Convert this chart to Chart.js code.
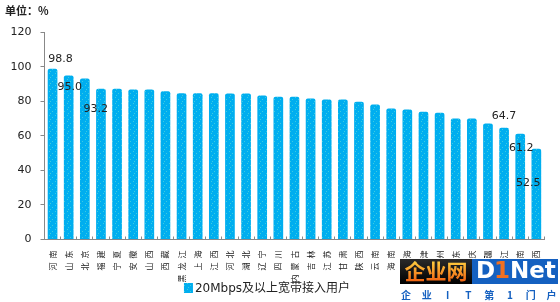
<!DOCTYPE html>
<html>
<head>
<meta charset="utf-8">
<script src="https://cdn.jsdelivr.net/npm/chart.js@4/dist/chart.umd.min.js"></script>
<style>
html, body { margin: 0; padding: 0; background: #fff; }
</style>
</head>
<body>
<canvas id="chart" width="560" height="302"></canvas>
<script>
// Provinces, sorted as in the picture
const provinces = ['河南', '山东', '北京', '福建', '宁夏', '安徽', '山西', '西藏', '黑龙江', '上海',
    '江西', '河北', '湖北', '辽宁', '四川', '内蒙古', '吉林', '江苏', '甘肃', '陕西',
    '云南', '海南', '青海', '天津', '贵州', '广东', '重庆', '新疆', '浙江', '湖南', '广西'];

// Share of 20Mbps+ broadband users, %
const values = [98.8, 95.0, 93.2, 87.3, 87.3, 86.9, 86.9, 85.8, 84.6, 84.6,
    84.6, 84.5, 84.5, 83.3, 82.7, 82.7, 81.6, 81.0, 81.0, 79.8,
    78.1, 75.8, 75.2, 74.0, 73.4, 70.0, 70.0, 67.1, 64.7, 61.2, 52.5];

const yTicks = [0, 20, 40, 60, 80, 100, 120];

// bars that carry a value label
const labeledBars = [0, 1, 2, 28, 29, 30];

const seriesName = '20Mbps及以上宽带接入用户';

const canvas = document.getElementById('chart');
const ctx = canvas.getContext('2d');

// dotted sky-blue fill like the original
function dotPattern() {
    const p = document.createElement('canvas');
    p.width = 6; p.height = 6;
    const g = p.getContext('2d');
    g.fillStyle = '#00AEEF';
    g.fillRect(0, 0, 6, 6);
    g.fillStyle = '#3DCBE0';
    g.fillRect(1, 1, 1, 1);
    g.fillRect(4, 3, 1, 1);
    g.fillRect(2, 5, 1, 1);
    return ctx.createPattern(p, 'repeat');
}
const barFill = dotPattern();

// label offsets relative to bar top (x, y)
const labelOffsets = { 0: [8, -10], 1: [1, 12], 2: [11, 31], 28: [0, -12], 29: [1, 14], 30: [-8, 34] };

const extras = {
    id: 'extras',
    afterDraw(chart) {
        const c = chart.ctx;
        const meta = chart.getDatasetMeta(0);
        c.save();

        // value labels
        c.font = '11px "DejaVu Sans"';
        c.fillStyle = '#222';
        c.textAlign = 'center';
        c.textBaseline = 'middle';
        labeledBars.forEach(i => {
            const el = meta.data[i];
            const off = labelOffsets[i] || [0, -8];
            c.fillText(values[i].toFixed(1), el.x + off[0], el.y + off[1]);
        });

        // legend
        c.font = '12px "DejaVu Sans", "Noto Sans CJK SC"';
        const tw = c.measureText(seriesName).width;
        const lx = 267 - (tw + 11) / 2;
        c.fillStyle = barFill;
        c.fillRect(lx, 283, 9, 10);
        c.fillStyle = '#222';
        c.textAlign = 'left';
        c.fillText(seriesName, lx + 11, 288.5);

        // watermark logo
        const grd = c.createLinearGradient(0, 259, 0, 284);
        grd.addColorStop(0, '#2a2a2a');
        grd.addColorStop(1, '#000');
        c.fillStyle = grd;
        c.fillRect(400, 259, 72, 25);
        c.fillStyle = '#1460C0';
        c.fillRect(472, 259, 86, 25);
        const og = c.createLinearGradient(0, 261, 0, 282);
        og.addColorStop(0, '#FFD040');
        og.addColorStop(1, '#F06010');
        c.fillStyle = og;
        c.font = 'bold 21px "Noto Sans CJK SC"';
        c.textAlign = 'center';
        c.fillText('企业网', 436, 271.5);
        c.font = 'bold 23px "DejaVu Sans"';
        c.textAlign = 'left';
        c.fillStyle = '#fff';
        c.fillText('D', 476, 272);
        c.fillStyle = '#F07020';
        c.fillText('1', 494, 272);
        c.fillStyle = '#fff';
        c.fillText('Net', 510, 272);
        c.fillStyle = '#1460C0';
        c.font = 'bold 10px "Noto Sans CJK SC"';
        c.textAlign = 'center';
        ['企', '业', 'I', 'T', '第', '1', '门', '户'].forEach((ch, k) => {
            c.fillText(ch, 406 + k * 20.8, 295.5);
        });

        c.restore();
    }
};

new Chart(ctx, {
    type: 'bar',
    data: {
        labels: provinces,
        datasets: [{
            label: seriesName,
            data: values,
            backgroundColor: barFill,
            borderRadius: { topLeft: 2, topRight: 2 },
            borderSkipped: 'bottom',
            barPercentage: 0.6,
            categoryPercentage: 1
        }]
    },
    options: {
        responsive: false,
        animation: false,
        devicePixelRatio: 1,
        layout: { padding: { left: 5, right: 3, top: 0, bottom: 18 } },
        plugins: {
            legend: { display: false },
            tooltip: { enabled: false },
            title: {
                display: true,
                text: '单位：%',
                align: 'start',
                color: '#222',
                font: { family: '"Noto Sans CJK SC"', size: 11, weight: 'bold' },
                padding: { top: 4, bottom: 15 }
            }
        },
        scales: {
            x: {
                grid: { drawOnChartArea: false, offset: true, tickLength: -3, color: '#888' },
                border: { color: '#888' },
                ticks: {
                    autoSkip: false,
                    minRotation: 90,
                    maxRotation: 90,
                    padding: 14,
                    color: '#222',
                    font: { family: '"Noto Sans CJK SC"', size: 8 },
                    callback: (v, i) => provinces[i].split('').join('\u2002')
                },
                afterFit: s => { s.height = 44.5; }
            },
            y: {
                min: yTicks[0],
                max: yTicks[yTicks.length - 1],
                grid: { drawOnChartArea: false, tickLength: 4, color: '#888' },
                border: { color: '#888' },
                ticks: {
                    stepSize: yTicks[1] - yTicks[0],
                    padding: 9,
                    color: '#222',
                    font: { family: '"DejaVu Sans"', size: 11 }
                },
                afterFit: s => { s.width = 39.5; }
            }
        }
    },
    plugins: [extras]
});
</script>
</body>
</html>
